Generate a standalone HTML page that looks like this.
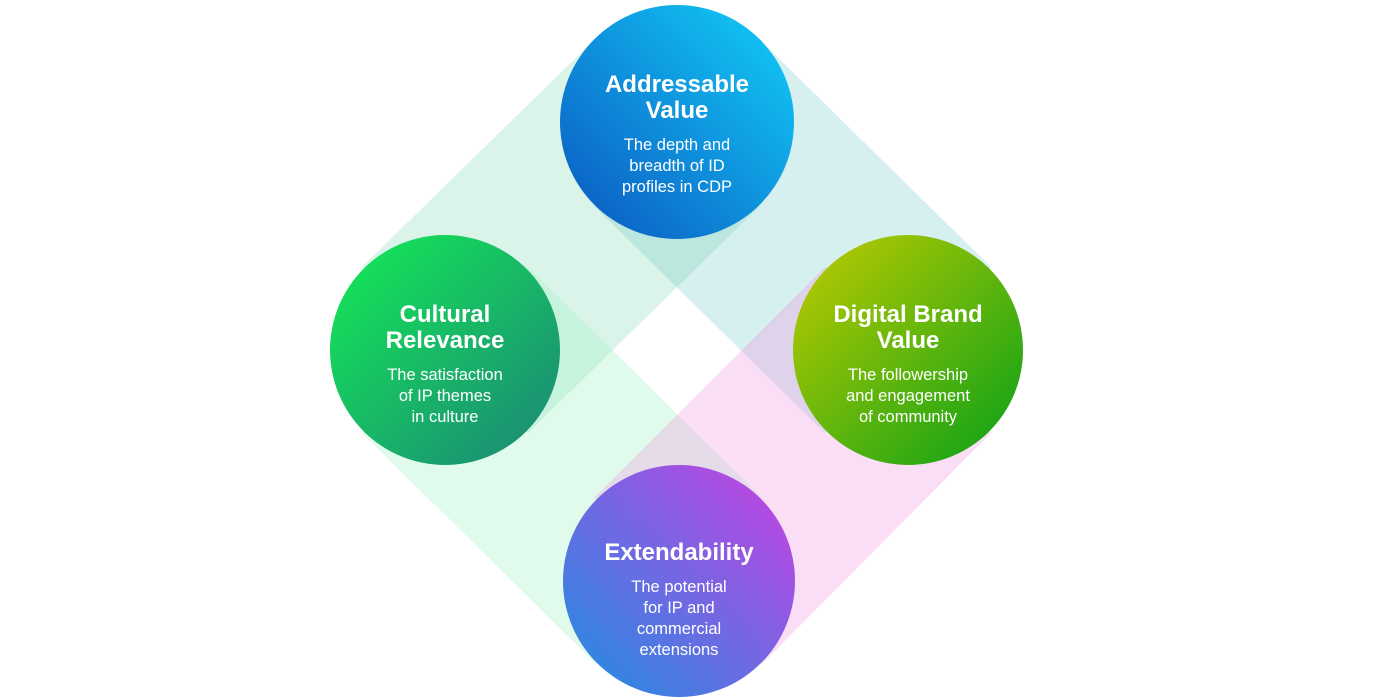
<!DOCTYPE html>
<html><head><meta charset="utf-8"><style>
html,body{margin:0;padding:0;background:#fff;width:1400px;height:700px;overflow:hidden}
svg text{font-family:"Liberation Sans",sans-serif;fill:#fff;text-anchor:middle}
.t{font-weight:bold;font-size:24px}
.b{font-size:16.5px}
</style></head><body>
<svg width="1400" height="700" viewBox="0 0 1400 700">
<defs>
<linearGradient id="gTop" x1="1" y1="0" x2="0" y2="1"><stop offset="0" stop-color="#12d0fa"/><stop offset="1" stop-color="#0b55bf"/></linearGradient>
<linearGradient id="gLeft" x1="0" y1="0" x2="1" y2="1"><stop offset="0" stop-color="#14ec55"/><stop offset="1" stop-color="#1c8477"/></linearGradient>
<linearGradient id="gRight" x1="0" y1="0" x2="1" y2="1"><stop offset="0" stop-color="#c2cc00"/><stop offset="1" stop-color="#05a018"/></linearGradient>
<linearGradient id="gBot" x1="1" y1="0" x2="0" y2="1"><stop offset="0" stop-color="#cc3ee2"/><stop offset="1" stop-color="#1b90e2"/></linearGradient>
</defs>
<!-- bands -->
<g>
<polygon points="594,40 760,206 528,433 362,267" fill="#7fd8b0" opacity="0.28"/>
<polygon points="594,206 760,40 991,267 825,433" fill="#6cc7c4" opacity="0.28"/>
<polygon points="362,433 528,267 762,498 596,664" fill="#8ff0b8" opacity="0.28"/>
<polygon points="594,498 825,267 991,433 762,664" fill="#f0a0e6" opacity="0.35"/>
</g>
<circle cx="677" cy="122" r="117" fill="url(#gTop)"/>
<circle cx="445" cy="350" r="115" fill="url(#gLeft)"/>
<circle cx="908" cy="350" r="115" fill="url(#gRight)"/>
<circle cx="679" cy="581" r="116" fill="url(#gBot)"/>
<text class="t" x="677" y="92">Addressable</text>
<text class="t" x="677" y="118">Value</text>
<text class="b" x="677" y="150">The depth and</text>
<text class="b" x="677" y="171">breadth of ID</text>
<text class="b" x="677" y="192">profiles in CDP</text>
<text class="t" x="445" y="322">Cultural</text>
<text class="t" x="445" y="348">Relevance</text>
<text class="b" x="445" y="380">The satisfaction</text>
<text class="b" x="445" y="401">of IP themes</text>
<text class="b" x="445" y="422">in culture</text>
<text class="t" x="908" y="322">Digital Brand</text>
<text class="t" x="908" y="348">Value</text>
<text class="b" x="908" y="380">The followership</text>
<text class="b" x="908" y="401">and engagement</text>
<text class="b" x="908" y="422">of community</text>
<text class="t" x="679" y="560">Extendability</text>
<text class="b" x="679" y="592">The potential</text>
<text class="b" x="679" y="613">for IP and</text>
<text class="b" x="679" y="634">commercial</text>
<text class="b" x="679" y="655">extensions</text>
</svg>
</body></html>
